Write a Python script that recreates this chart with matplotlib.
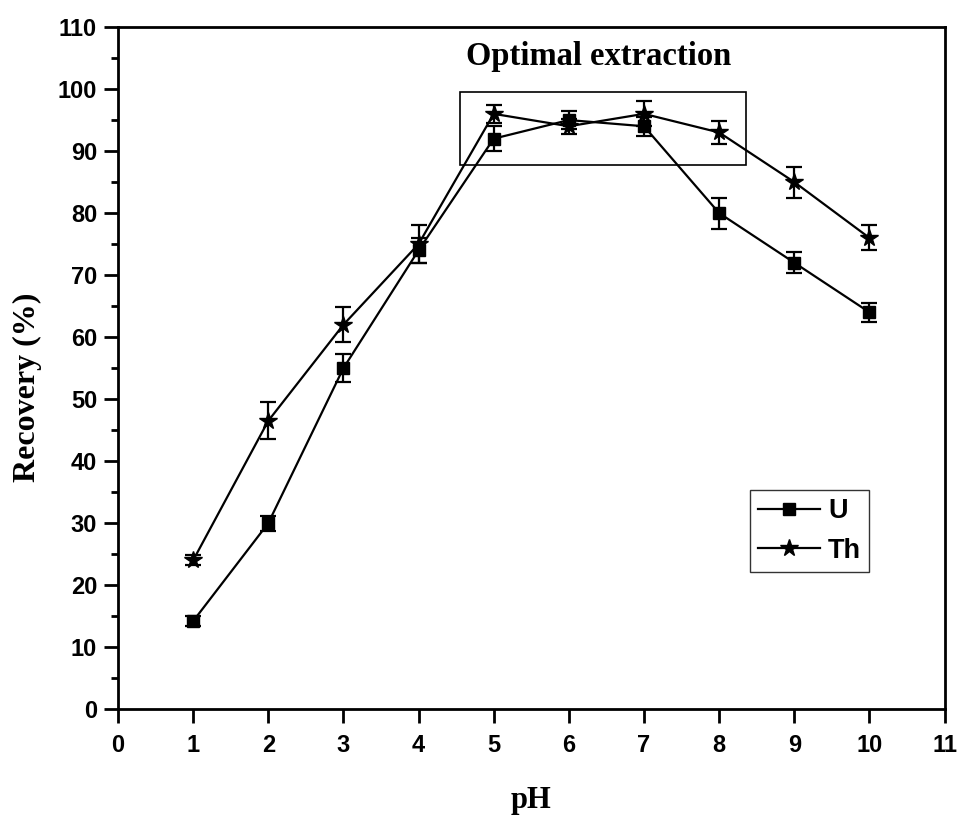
import numpy as np
import matplotlib
matplotlib.use('Agg')
import matplotlib.pyplot as plt
from matplotlib.patches import Rectangle

ph = [1, 2, 3, 4, 5, 6, 7, 8, 9, 10]
u_rec = [14.2, 30, 55, 74, 92, 95, 94, 80, 72, 64]
u_err = [0.8, 1.2, 2.2, 2.0, 2.0, 1.5, 1.5, 2.5, 1.7, 1.5]
th_rec = [24, 46.5, 62, 75, 96, 94, 96, 93, 85, 76]
th_err = [0.8, 3.0, 2.8, 3.0, 1.5, 1.2, 2.0, 1.8, 2.5, 2.0]

sans = ['Liberation Sans', 'DejaVu Sans']
serif = ['Liberation Serif', 'DejaVu Serif']

fig = plt.figure(figsize=(9.59, 8.19), dpi=100)
ax = fig.add_axes([0.123, 0.134, 0.862, 0.833])

ax.errorbar(ph, u_rec, yerr=u_err, color='black', marker='s', markersize=9,
            linewidth=1.6, elinewidth=1.6, capsize=6, capthick=1.6)
ax.errorbar(ph, th_rec, yerr=th_err, color='black', marker='*', markersize=13,
            linewidth=1.6, elinewidth=1.6, capsize=6, capthick=1.6)
# legend handles without the error bars
ax.plot([], [], color='black', marker='s', markersize=9, linewidth=1.6, label='U')
ax.plot([], [], color='black', marker='*', markersize=13, linewidth=1.6, label='Th')

# box around the optimal range
ax.add_patch(Rectangle((4.55, 87.7), 3.81, 11.8, fill=False, edgecolor='black', linewidth=1.2))
ax.text(6.39, 105.3, 'Optimal extraction', ha='center', va='center',
        fontsize=23.5, fontweight='bold', family=serif)

ax.set_xlim(0, 11)
ax.set_ylim(0, 110)
ax.set_xticks(range(0, 12))
ax.set_yticks(range(0, 111, 10))
ax.set_yticks(range(5, 110, 10), minor=True)
ax.tick_params(axis='both', which='major', direction='out', length=10, width=2,
               labelsize=17)
ax.tick_params(axis='x', which='major', pad=8)
ax.tick_params(axis='y', which='major', pad=5)
ax.tick_params(axis='y', which='minor', direction='out', length=5, width=2)
for lab in ax.get_xticklabels() + ax.get_yticklabels():
    lab.set_fontweight('bold')
    lab.set_family(sans)
for s in ax.spines.values():
    s.set_linewidth(2)

ax.set_xlabel('pH', fontsize=22, fontweight='bold', family=serif, labelpad=21)
ax.set_ylabel('Recovery (%)', fontsize=23, fontweight='bold', family=serif)
ax.yaxis.set_label_coords(-0.092, 0.472)

leg = ax.legend(loc='upper left', bbox_to_anchor=(0.764, 0.321), frameon=True,
                fancybox=False, edgecolor='black', handlelength=2.3,
                prop={'family': sans, 'weight': 'bold', 'size': 19.5},
                borderpad=0.3, labelspacing=0.5, handletextpad=0.3,
                borderaxespad=0)
leg.get_frame().set_linewidth(1.0)

fig.savefig('out.png', dpi=100)
